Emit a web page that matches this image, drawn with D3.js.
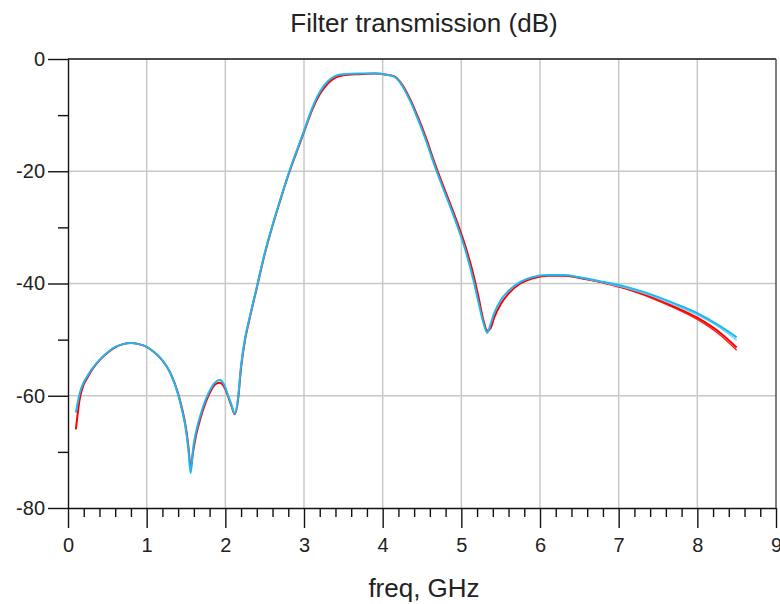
<!DOCTYPE html>
<html>
<head>
<meta charset="utf-8">
<script src="https://cdn.jsdelivr.net/npm/d3@7"></script>
<style>
  body { margin: 0; background: #fff; }
  svg text { font-family: "Liberation Sans", Arial, sans-serif; fill: #222; }
</style>
</head>
<body>
<svg id="chart" width="780" height="604"></svg>
<script>
// DATA

const freq = [0.1, 0.15, 0.2, 0.25, 0.3, 0.4, 0.5, 0.6, 0.7, 0.8, 0.9, 1.0, 1.1, 1.2, 1.3, 1.4, 1.45, 1.5, 1.53, 1.56,
    1.59, 1.63, 1.68, 1.75, 1.82, 1.88, 1.93, 1.98, 2.03, 2.08, 2.12, 2.16, 2.2, 2.25, 2.3, 2.4, 2.5, 2.6, 2.7, 2.8,
    2.9, 3.0, 3.1, 3.2, 3.3, 3.4, 3.5, 3.7, 3.9, 4.05, 4.15, 4.25, 4.35, 4.45, 4.55, 4.65, 4.75, 4.85, 4.95, 5.05,
    5.15, 5.22, 5.28, 5.33, 5.37, 5.42, 5.5, 5.6, 5.75, 5.9, 6.1, 6.3, 6.5, 6.8, 7.1, 7.4, 7.7, 8.0, 8.3, 8.5];

const cyanS21 = [-63.0, -59.5, -57.6, -56.4, -55.3, -53.6, -52.3, -51.3, -50.8, -50.6, -50.8, -51.3, -52.3, -53.7, -55.9, -59.8, -62.6, -66.2, -69.6, -73.8,
    -69.4, -66.3, -63.6, -60.7, -58.6, -57.5, -57.2, -57.9, -59.7, -61.7, -63.2, -60.6, -54.6, -49.8, -46.6, -40.6, -34.6, -29.6, -25.0, -20.6,
    -16.6, -12.8, -8.9, -5.9, -4.0, -3.0, -2.7, -2.6, -2.6, -2.8, -3.2, -4.8, -7.5, -10.8, -14.5, -18.6, -22.4, -26.0, -29.8, -34.0,
    -39.2, -43.5, -47.0, -48.8, -47.3, -45.2, -43.0, -41.3, -39.7, -38.9, -38.5, -38.5, -38.9, -39.7, -40.6, -41.9, -43.5, -45.3, -47.7, -49.6];

const redS21 = [-66.0, -60.5, -58.0, -56.7, -55.5, -53.7, -52.4, -51.4, -50.8, -50.6, -50.8, -51.3, -52.3, -53.7, -55.9, -59.6, -62.3, -65.8, -69.0, -72.8,
    -70.0, -66.9, -64.2, -61.2, -59.0, -57.9, -57.7, -58.3, -59.9, -61.9, -63.3, -60.9, -55.0, -50.1, -46.8, -40.8, -34.8, -29.7, -25.1, -20.7,
    -16.8, -13.0, -9.2, -6.3, -4.4, -3.3, -2.9, -2.7, -2.6, -2.8, -3.1, -4.6, -7.2, -10.4, -14.0, -18.1, -21.9, -25.5, -29.2, -33.3,
    -38.2, -42.5, -46.5, -48.4, -48.0, -46.0, -43.7, -41.8, -40.0, -39.1, -38.6, -38.6, -39.0, -39.8, -40.9, -42.3, -44.1, -46.1, -48.9, -51.4];

// second traces, only where they split apart
const tailFreq = [6.5, 6.8, 7.1, 7.4, 7.7, 8.0, 8.3, 8.5];
const cyanTail = [-38.9, -39.8, -40.8, -42.1, -43.8, -45.6, -48.0, -50.1];
const redTail = [-39.0, -39.9, -41.0, -42.5, -44.3, -46.4, -49.3, -51.9];

const xTicks = [0, 1, 2, 3, 4, 5, 6, 7, 8, 9];
const yTicks = [0, -20, -40, -60, -80];

const titleText = "Filter transmission (dB)";
const xLabelText = "freq, GHz";

// CHART

const svg = d3.select("#chart");

const plotLeft = 68, plotRight = 776, plotTop = 59, plotBottom = 508;

const x = d3.scaleLinear().domain([0, 9]).range([plotLeft, plotRight]);
const y = d3.scaleLinear().domain([-80, 0]).range([plotBottom, plotTop]);

// grid
svg.append("g")
    .selectAll("line")
    .data(xTicks.slice(1, -1))
    .join("line")
    .attr("x1", d => x(d)).attr("x2", d => x(d))
    .attr("y1", plotTop).attr("y2", plotBottom)
    .attr("stroke", "#c8c8c8").attr("stroke-width", 1.5);

svg.append("g")
    .selectAll("line")
    .data(yTicks.slice(1, -1))
    .join("line")
    .attr("x1", plotLeft).attr("x2", plotRight)
    .attr("y1", d => y(d)).attr("y2", d => y(d))
    .attr("stroke", "#c8c8c8").attr("stroke-width", 1.5);

// frame (top + right)
svg.append("line").attr("x1", plotLeft).attr("x2", plotRight).attr("y1", plotTop).attr("y2", plotTop)
    .attr("stroke", "#111").attr("stroke-width", 1.5);
svg.append("line").attr("x1", plotRight).attr("x2", plotRight).attr("y1", plotTop).attr("y2", plotBottom)
    .attr("stroke", "#555").attr("stroke-width", 1.5);

// x axis
const xAxis = d3.axisBottom(x)
    .tickValues(xTicks)
    .tickFormat(d => String(d))
    .tickSize(20)
    .tickSizeOuter(0)
    .tickPadding(10);

const xAxisG = svg.append("g")
    .attr("transform", `translate(0,${plotBottom})`)
    .call(xAxis);

const xMinor = d3.range(0, 45).map(i => i * 0.2).filter(d => Math.abs(d - Math.round(d)) > 0.01);

svg.append("g")
    .attr("transform", `translate(0,${plotBottom})`)
    .call(d3.axisBottom(x).tickValues(xMinor).tickSize(9).tickFormat(""))
    .call(g => g.select(".domain").remove());

// y axis
const yAxis = d3.axisLeft(y)
    .tickValues(yTicks)
    .tickFormat(d => String(d))
    .tickSize(20)
    .tickSizeOuter(0)
    .tickPadding(3);

const yAxisG = svg.append("g")
    .attr("transform", `translate(${plotLeft},0)`)
    .call(yAxis);

svg.append("g")
    .attr("transform", `translate(${plotLeft},0)`)
    .call(d3.axisLeft(y).tickValues([-10, -30, -50, -70]).tickSize(10).tickFormat(""))
    .call(g => g.select(".domain").remove());

svg.selectAll(".domain, .tick line")
    .attr("stroke", "#111")
    .attr("stroke-width", 1.4);

xAxisG.selectAll("text")
    .attr("font-size", 20)
    .style("font-family", "'Liberation Sans', Arial, sans-serif")
    .attr("fill", "#222");

yAxisG.selectAll("text")
    .attr("font-size", 20)
    .style("font-family", "'Liberation Sans', Arial, sans-serif")
    .attr("fill", "#222");

// curves
const line = d3.line()
    .x(d => x(d[0]))
    .y(d => y(d[1]))
    .curve(d3.curveMonotoneX);

function drawTrace(fs, vals, color, width) {
    svg.append("path")
        .datum(fs.map((f, i) => [f, vals[i]]))
        .attr("d", line)
        .attr("fill", "none")
        .attr("stroke", color)
        .attr("stroke-width", width)
        .attr("stroke-linejoin", "round");
}

drawTrace(tailFreq, redTail, "#ff2020", 1.4);
drawTrace(freq, redS21, "#ff0000", 2);
drawTrace(tailFreq, cyanTail, "#6fd2f5", 1.4);
drawTrace(freq, cyanS21, "#1cb8ee", 2);

// labels
svg.append("text")
    .attr("x", 424)
    .attr("y", 32)
    .attr("text-anchor", "middle")
    .attr("font-size", 26)
    .text(titleText);

svg.append("text")
    .attr("x", 424)
    .attr("y", 597)
    .attr("text-anchor", "middle")
    .attr("font-size", 26)
    .text(xLabelText);
</script>
</body>
</html>
